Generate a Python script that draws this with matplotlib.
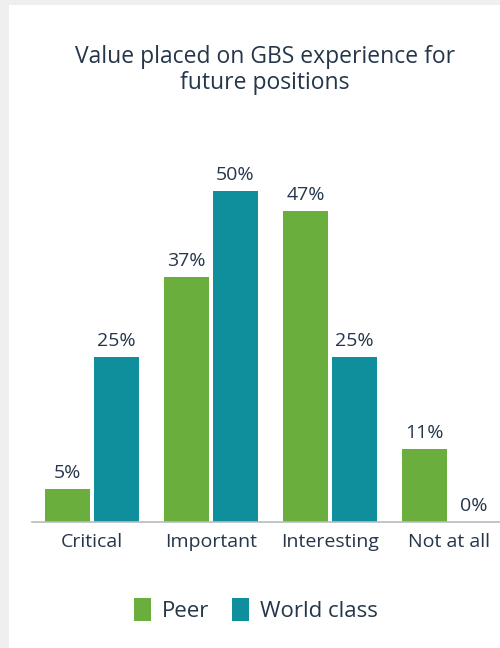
import numpy as np
import matplotlib
matplotlib.use("Agg")
import matplotlib.pyplot as plt
from matplotlib.patches import Rectangle

plt.rcParams['font.family'] = ['Open Sans', 'DejaVu Sans']

categories = ['Critical', 'Important', 'Interesting', 'Not at all']
peer = [5, 37, 47, 11]
world_class = [25, 50, 25, 0]
series_names = ['Peer', 'World class']

GREEN = '#6aaf3d'
TEAL = '#0e8f9b'
TEXT = '#25364a'

fig = plt.figure(figsize=(5.0, 6.48), dpi=100)
fig.patch.set_facecolor('white')
# light grey frame strips on the left and top edges
fig.patches.append(Rectangle((0, 0), 0.018, 1, transform=fig.transFigure,
                             facecolor='#efefef', edgecolor='none', zorder=0))
fig.patches.append(Rectangle((0, 0.992), 1, 0.008, transform=fig.transFigure,
                             facecolor='#efefef', edgecolor='none', zorder=0))

ax = fig.add_axes([0.064, 0.1944, 0.936, 0.5615])
x = np.arange(len(categories))
w = 0.378
off = 0.206
b1 = ax.bar(x - off, peer, w, color=GREEN, label=series_names[0])
b2 = ax.bar(x + off, world_class, w, color=TEAL, label=series_names[1])

for bars, vals in ((b1, peer), (b2, world_class)):
    for rect, v in zip(bars, vals):
        ax.annotate(f'{v}%', (rect.get_x() + rect.get_width() / 2, v),
                    xytext=(0, 5), textcoords='offset points',
                    ha='center', va='bottom', fontsize=14, color=TEXT)

ax.set_xlim(-0.504, 3.43)
ax.set_ylim(0, 55)
ax.set_xticks(x)
ax.set_xticklabels(categories, fontsize=14, color=TEXT)
ax.tick_params(axis='x', length=0, pad=8)
ax.set_yticks([])
for s in ('top', 'right', 'left'):
    ax.spines[s].set_visible(False)
ax.spines['bottom'].set_color('#b8bcc0')
ax.spines['bottom'].set_linewidth(1.2)

fig.text(0.53, 0.892, 'Value placed on GBS experience for\nfuture positions',
         ha='center', va='center', fontsize=16.5, color=TEXT, linespacing=1.15)

fig.legend(handles=[b1, b2], labels=series_names, loc='center',
           bbox_to_anchor=(0.512, 0.058), ncol=2, frameon=False,
           fontsize=16, handlelength=0.75, handleheight=1.2,
           handletextpad=0.5, columnspacing=1.0, labelcolor=TEXT)

fig.savefig('out.png', dpi=100)
